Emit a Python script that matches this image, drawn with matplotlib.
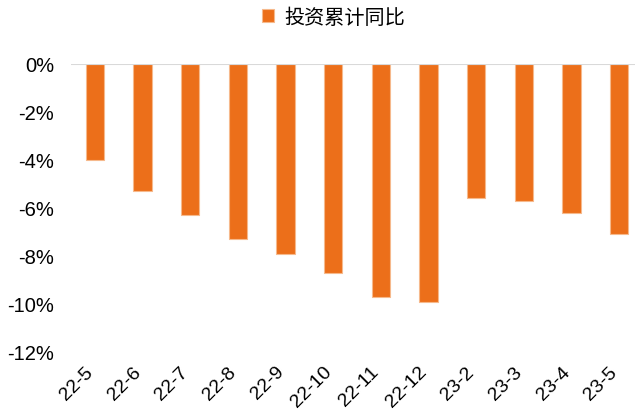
import matplotlib
matplotlib.use("Agg")
import matplotlib.pyplot as plt
from matplotlib.ticker import FuncFormatter
from matplotlib.transforms import ScaledTranslation

categories = ["22-5", "22-6", "22-7", "22-8", "22-9", "22-10", "22-11", "22-12",
              "23-2", "23-3", "23-4", "23-5"]
values = [-4.0, -5.3, -6.3, -7.3, -7.9, -8.7, -9.7, -9.9, -5.6, -5.7, -6.2, -7.1]
series_name = "投资累计同比"
yticks = [0, -2, -4, -6, -8, -10, -12]

plt.rcParams['font.family'] = ['Liberation Sans', 'Noto Sans CJK SC', 'DejaVu Sans']

W, H = 635, 414
fig = plt.figure(figsize=(W / 100, H / 100), dpi=100)
left = 71 / W
right = 643 / W
bottom = 1 - 353 / H
top = 1 - 65 / H
ax = fig.add_axes([left, bottom, right - left, top - bottom])

x = list(range(len(categories)))
bars = ax.bar(x, values, width=0.385, color="#EC6F1A", edgecolor="#F6B98C",
              linewidth=0.8, label=series_name, zorder=2)
ax.axhline(0, color="#D9D9D9", linewidth=1.5, zorder=3)

ax.set_xlim(-0.5, len(categories) - 0.5)
ax.set_ylim(-12, 0)
ax.set_yticks(yticks)
ax.yaxis.set_major_formatter(FuncFormatter(lambda v, p: f"{int(round(v))}%"))
ax.tick_params(axis='y', length=0, pad=12, labelsize=14.5, colors="#000000")
ax.tick_params(axis='x', length=0, pad=4, labelsize=14)
ax.set_xticks(x)
ax.set_xticklabels(categories, rotation=45, ha='right', rotation_mode='anchor')
off = ScaledTranslation(-7.5 / 72, -3.7 / 72, fig.dpi_scale_trans)
for lab in ax.get_xticklabels():
    lab.set_transform(lab.get_transform() + off)
for s in ax.spines.values():
    s.set_visible(False)

leg = fig.legend(handles=[bars], labels=[series_name], loc='center',
                 bbox_to_anchor=(0.525, 1 - 18 / H), frameon=False,
                 prop={'family': ['Noto Sans CJK SC'], 'size': 14.5},
                 handlelength=0.6, handleheight=0.6, handletextpad=0.5)

fig.savefig("out.png", dpi=100)
